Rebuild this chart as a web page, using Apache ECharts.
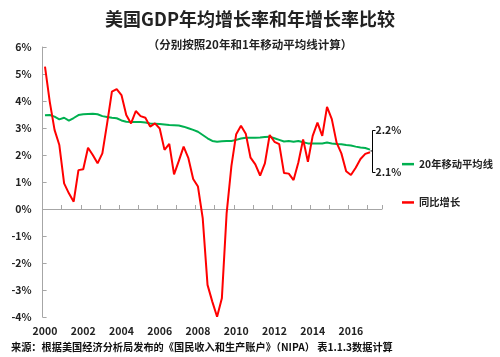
<!DOCTYPE html>
<html>
<head>
<meta charset="utf-8">
<script src="https://cdn.jsdelivr.net/npm/echarts@6/dist/echarts.min.js"></script>
<style>
html,body{margin:0;padding:0;background:#fff;}
#c{width:500px;height:357px;}
</style>
</head>
<body>
<div id="c"></div>
<script>
// Quarterly categories 2000Q1 .. 2017Q3
var years = [2000,2001,2002,2003,2004,2005,2006,2007,2008,2009,2010,2011,2012,2013,2014,2015,2016,2017];
var quarters = ['Q1','Q2','Q3','Q4'];
var categories = [];
years.forEach(function(y){ quarters.forEach(function(q){ if (!(y === 2017 && q === 'Q4')) categories.push(y + q); }); });

var yoyName = '同比增长';
var maName = '20年移动平均线';

// 同比增长 (%)
var yoyGrowth = [5.27,3.97,2.93,2.37,0.95,0.58,0.27,1.44,1.47,2.27,2.0,1.69,2.06,3.17,4.35,4.44,4.22,3.48,3.17,3.63,
  3.44,3.38,3.05,3.17,2.98,2.19,2.41,1.28,1.78,2.31,1.88,1.11,0.83,-0.35,-2.81,-3.43,-3.99,-3.31,-0.15,1.6,
  2.77,3.08,2.79,1.9,1.65,1.24,1.69,2.74,2.49,2.4,1.33,1.31,1.07,1.72,2.58,1.75,2.71,3.2,2.71,3.78,
  3.33,2.46,2.06,1.4,1.26,1.53,1.85,2.04,2.1];

// 20年移动平均线 (%)
var movingAvg20 = [3.47,3.48,3.42,3.32,3.38,3.27,3.37,3.48,3.51,3.52,3.53,3.51,3.44,3.41,3.38,3.36,3.28,3.23,3.22,3.22,
  3.22,3.2,3.17,3.16,3.15,3.13,3.11,3.1,3.09,3.05,2.99,2.93,2.86,2.74,2.62,2.52,2.49,2.51,2.52,2.52,
  2.56,2.61,2.64,2.64,2.64,2.65,2.67,2.68,2.62,2.56,2.5,2.52,2.49,2.52,2.47,2.43,2.43,2.43,2.43,2.46,
  2.43,2.41,2.4,2.37,2.35,2.31,2.28,2.26,2.2];

var yMin = -4, yMax = 6, yStep = 1;

var titleText = '美国GDP年均增长率和年增长率比较';
var subtitleText = '（分别按照20年和1年移动平均线计算）';
var sourceText = '来源：根据美国经济分析局发布的《国民收入和生产账户》（NIPA） 表1.1.3数据计算';

(function(){
var FONT = '"Noto Sans CJK SC", "Liberation Sans", sans-serif';
var chart = echarts.init(document.getElementById('c'), null, {renderer: 'canvas'});

var option = {
  backgroundColor: '#fff',
  animation: false,
  title: [
    {text: titleText, left: 'center', top: 5,
     textStyle: {fontFamily: FONT, fontSize: 18, fontWeight: 'bold', color: '#222'}},
    {text: subtitleText, left: 'center', top: 34,
     textStyle: {fontFamily: FONT, fontSize: 11.5, fontWeight: 'bold', color: '#222'}},
    {text: sourceText, left: 6, top: 337,
     textStyle: {fontFamily: FONT, fontSize: 10.2, fontWeight: 'bold', color: '#111'}}
  ],
  grid: {left: 42.6, right: 118, top: 47, bottom: 40, containLabel: false},
  legend: {
    orient: 'vertical', left: 397, top: 154, itemGap: 28,
    icon: 'rect', itemWidth: 12, itemHeight: 2.5,
    data: [maName, yoyName],
    textStyle: {fontFamily: FONT, fontSize: 10.3, fontWeight: 'bold', color: '#222'}
  },
  xAxis: [
    {type: 'category', data: categories, boundaryGap: true,
     axisLine: {onZero: true, lineStyle: {color: '#a6a6a6', width: 1}},
     axisTick: {show: true, inside: true, length: 4, interval: 3, alignWithLabel: false, lineStyle: {color: '#a6a6a6'}},
     axisLabel: {show: false}, splitLine: {show: false}},
    {type: 'category', data: categories, boundaryGap: true, position: 'bottom',
     axisLine: {show: false, onZero: false}, axisTick: {show: false}, splitLine: {show: false},
     axisLabel: {interval: 7, margin: 9, fontFamily: FONT, fontSize: 10.5, fontWeight: 'bold', color: '#222',
       formatter: function(v){ return v.slice(0,4); }}}
  ],
  yAxis: {
    type: 'value', min: yMin, max: yMax, interval: yStep,
    axisLine: {show: true, lineStyle: {color: '#a6a6a6', width: 1}},
    axisTick: {show: true, inside: true, length: 4, lineStyle: {color: '#a6a6a6'}},
    splitLine: {show: false},
    axisLabel: {margin: 11, fontFamily: FONT, fontSize: 10.5, fontWeight: 'bold', color: '#222',
      formatter: '{value}%'}
  },
  series: [
    {name: maName, type: 'line', data: movingAvg20, xAxisIndex: 0, showSymbol: false, symbol: 'none',
     lineStyle: {color: '#00b050', width: 2}, itemStyle: {color: '#00b050'}, z: 2},
    {name: yoyName, type: 'line', data: yoyGrowth, xAxisIndex: 0, showSymbol: false, symbol: 'none',
     lineStyle: {color: '#ff0000', width: 2}, itemStyle: {color: '#ff0000'}, z: 3}
  ]
};
chart.setOption(option);

// Bracket annotation at the end of the lines, positioned from the data
var lastIdx = yoyGrowth.length - 1;
var pMa = chart.convertToPixel({xAxisIndex: 0, yAxisIndex: 0}, [lastIdx, movingAvg20[lastIdx]]);
var pYoy = chart.convertToPixel({xAxisIndex: 0, yAxisIndex: 0}, [lastIdx, yoyGrowth[lastIdx]]);
var bx = Math.round(Math.max(pMa[0], pYoy[0]) + 2) + 0.5;
var midY = (pMa[1] + pYoy[1]) / 2;
var topY = Math.round(midY - 21) + 0.5, botY = Math.round(midY + 21) + 0.5;
var ls = {stroke: '#000', lineWidth: 1, fill: null};
chart.setOption({
  graphic: {elements: [
    {type: 'polyline', shape: {points: [[bx+3, topY],[bx, topY],[bx, botY],[bx+3, botY]]}, style: ls, silent: true},
    {type: 'line', shape: {x1: bx-2, y1: midY, x2: bx, y2: midY}, style: {stroke: '#000', lineWidth: 1}, silent: true},
    {type: 'text', x: bx + 3, y: topY, style: {text: movingAvg20[lastIdx].toFixed(1) + '%', fill: '#222',
      fontFamily: FONT, fontSize: 10.5, fontWeight: 'bold', verticalAlign: 'middle', align: 'left'}},
    {type: 'text', x: bx + 3, y: botY, style: {text: yoyGrowth[lastIdx].toFixed(1) + '%', fill: '#222',
      fontFamily: FONT, fontSize: 10.5, fontWeight: 'bold', verticalAlign: 'middle', align: 'left'}}
  ]}
});
})();
</script>
</body>
</html>
